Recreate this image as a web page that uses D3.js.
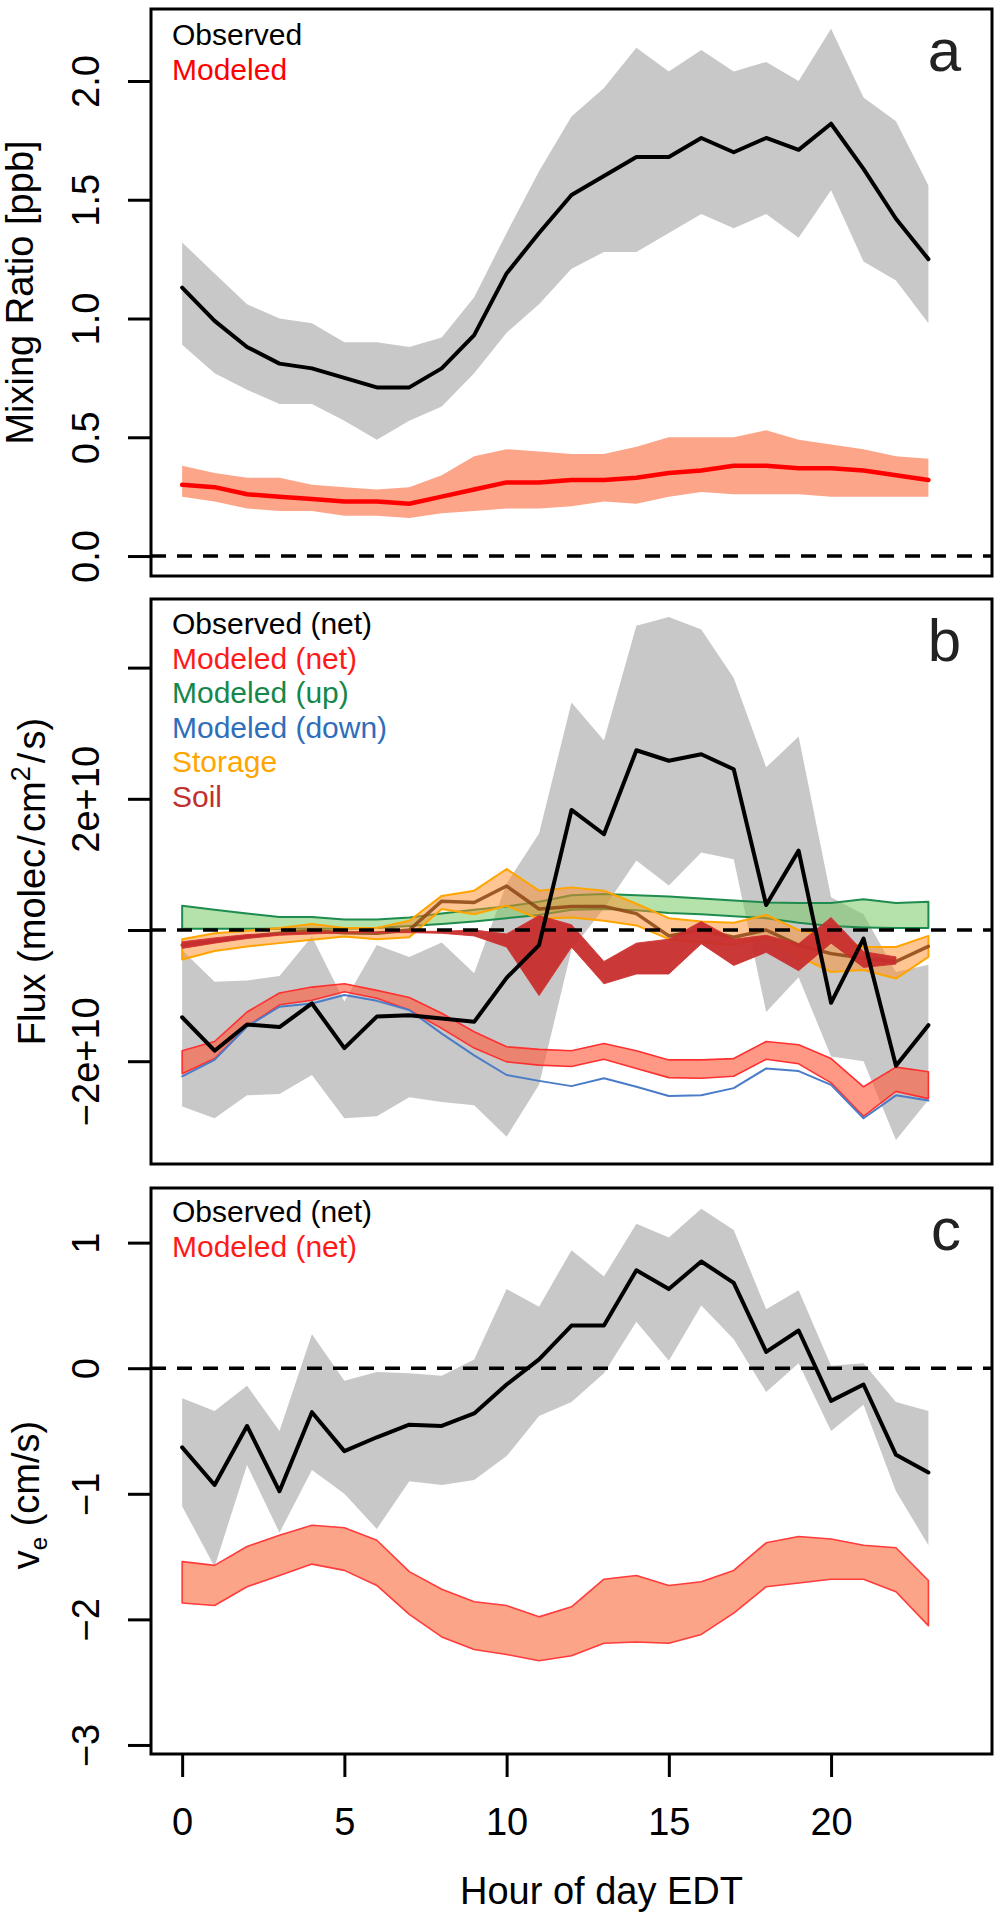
<!DOCTYPE html>
<html>
<head>
<meta charset="utf-8">
<script src="https://cdn.jsdelivr.net/npm/d3@7"></script>
<style>
  html, body { margin: 0; padding: 0; background: #fff; }
  svg { display: block; font-family: "Liberation Sans", Arial, Helvetica, sans-serif; }
</style>
</head>
<body>
<svg id="chart" width="1000" height="1920"></svg>
<script>
// ---------------- data ----------------
const hours = [0,1,2,3,4,5,6,7,8,9,10,11,12,13,14,15,16,17,18,19,20,21,22,23];
const hourTicks = [0,5,10,15,20];

// panel a: mixing ratio [ppb]
const mixObs   = [1.13,0.99,0.88,0.81,0.79,0.75,0.71,0.71,0.79,0.93,1.19,1.36,1.52,1.60,1.68,1.68,1.76,1.70,1.76,1.71,1.82,1.63,1.42,1.25];
const mixObsHi = [1.32,1.19,1.06,1.00,0.98,0.90,0.90,0.88,0.92,1.09,1.36,1.62,1.85,1.97,2.14,2.04,2.13,2.04,2.08,2.00,2.22,1.93,1.83,1.56];
const mixObsLo = [0.89,0.77,0.70,0.64,0.64,0.57,0.49,0.57,0.63,0.77,0.94,1.06,1.21,1.28,1.28,1.36,1.44,1.38,1.44,1.34,1.54,1.24,1.16,0.98];
const mixMod   = [0.30,0.29,0.26,0.25,0.24,0.23,0.23,0.22,0.25,0.28,0.31,0.31,0.32,0.32,0.33,0.35,0.36,0.38,0.38,0.37,0.37,0.36,0.34,0.32];
const mixModHi = [0.38,0.35,0.33,0.33,0.30,0.29,0.28,0.29,0.34,0.42,0.45,0.44,0.43,0.43,0.46,0.50,0.50,0.50,0.53,0.49,0.47,0.45,0.42,0.41];
const mixModLo = [0.25,0.23,0.20,0.19,0.19,0.17,0.17,0.16,0.18,0.19,0.20,0.20,0.21,0.23,0.22,0.25,0.27,0.26,0.26,0.26,0.25,0.25,0.25,0.25];
const mixTicks = [0.0,0.5,1.0,1.5,2.0];
const mixTickLabels = ["0.0","0.5","1.0","1.5","2.0"];

// panel b: flux, in units of 1e10 molec/cm2/s
const fluxObs   = [-1.33,-1.84,-1.44,-1.48,-1.12,-1.80,-1.32,-1.30,-1.35,-1.40,-0.73,-0.23,1.83,1.46,2.74,2.58,2.68,2.45,0.38,1.21,-1.11,-0.13,-2.07,-1.45];
const fluxObsHi = [-0.31,-0.79,-0.77,-0.70,-0.10,-1.09,-0.23,-0.41,-0.19,-0.66,0.71,1.47,3.47,2.89,4.64,4.77,4.58,3.84,2.48,2.95,0.50,0.24,-0.64,-0.53];
const fluxObsLo = [-2.69,-2.87,-2.52,-2.50,-2.21,-2.87,-2.84,-2.55,-2.62,-2.67,-3.15,-2.36,-0.30,0.33,1.06,0.68,1.18,1.08,-1.25,-0.72,-1.93,-2.00,-3.20,-2.59];
const netHi  = [-1.84,-1.70,-1.25,-0.96,-0.87,-0.82,-0.92,-1.03,-1.27,-1.55,-1.78,-1.82,-1.84,-1.73,-1.84,-1.98,-1.98,-1.96,-1.70,-1.75,-1.96,-2.39,-2.09,-2.16];
const netLo  = [-2.19,-1.96,-1.47,-1.14,-1.07,-0.94,-1.04,-1.22,-1.50,-1.80,-2.01,-2.06,-2.08,-1.97,-2.11,-2.25,-2.26,-2.23,-1.97,-2.04,-2.33,-2.84,-2.46,-2.57];
const downFlux = [-2.23,-1.98,-1.47,-1.17,-1.12,-0.99,-1.08,-1.22,-1.58,-1.91,-2.21,-2.30,-2.38,-2.26,-2.39,-2.53,-2.52,-2.41,-2.11,-2.15,-2.36,-2.87,-2.52,-2.60];
const upHi = [0.37,0.31,0.25,0.20,0.20,0.16,0.16,0.19,0.25,0.31,0.36,0.43,0.53,0.55,0.53,0.51,0.48,0.45,0.42,0.41,0.41,0.47,0.41,0.43];
const upLo = [0.02,0.02,0.02,0.02,0.02,0.02,0.03,0.06,0.09,0.13,0.18,0.23,0.31,0.32,0.30,0.26,0.24,0.21,0.18,0.11,0.06,0.04,0.03,0.03];
const storHi  = [-0.14,-0.05,-0.01,0.03,0.09,0.03,0.03,0.14,0.52,0.60,0.93,0.60,0.65,0.60,0.40,0.18,0.13,0.11,0.23,0.00,-0.10,-0.26,-0.26,-0.09];
const storMid = [-0.23,-0.17,-0.10,-0.05,-0.01,-0.04,-0.05,0.00,0.44,0.42,0.67,0.32,0.36,0.36,0.25,-0.09,0.00,-0.11,0.00,-0.23,-0.36,-0.43,-0.48,-0.25];
const storLo  = [-0.45,-0.32,-0.25,-0.20,-0.15,-0.10,-0.14,-0.11,0.32,0.24,0.37,0.17,0.19,0.14,0.07,-0.14,-0.19,-0.23,-0.11,-0.40,-0.64,-0.61,-0.74,-0.41];
const soilHours = [0,1,2,3,4,5,6,7,8,9,10,11,12,13,14,15,16,17,18,19,20,21,22];
const soilHi = [-0.18,-0.12,-0.07,-0.05,-0.03,-0.03,-0.03,-0.02,-0.02,0.00,-0.06,0.22,0.08,-0.48,-0.20,-0.14,0.13,-0.14,-0.08,-0.21,0.19,-0.33,-0.41];
const soilLo = [-0.28,-0.20,-0.13,-0.08,-0.06,-0.04,-0.04,-0.04,-0.05,-0.09,-0.26,-1.00,-0.26,-0.82,-0.67,-0.67,-0.21,-0.54,-0.34,-0.62,-0.20,-0.57,-0.52];
const fluxTicks = [-2,0,2,4];
const fluxTickLabels = ["\u22122e+10","","2e+10",""];

// panel c: exchange velocity [cm/s]
const veObs   = [-0.63,-0.93,-0.46,-0.98,-0.35,-0.66,-0.55,-0.45,-0.46,-0.36,-0.13,0.07,0.34,0.34,0.78,0.63,0.85,0.68,0.13,0.30,-0.26,-0.13,-0.69,-0.83];
const veObsHi = [-0.24,-0.34,-0.14,-0.50,0.27,-0.10,-0.03,-0.04,-0.06,0.07,0.63,0.49,0.94,0.73,1.15,1.04,1.27,1.10,0.47,0.62,0.02,0.04,-0.27,-0.34];
const veObsLo = [-1.10,-1.58,-0.77,-1.31,-0.81,-1.00,-1.28,-0.90,-0.93,-0.89,-0.70,-0.38,-0.27,-0.04,0.37,0.06,0.50,0.23,-0.19,0.04,-0.50,-0.29,-0.98,-1.41];
const veModHi = [-1.54,-1.57,-1.42,-1.33,-1.25,-1.27,-1.37,-1.62,-1.76,-1.86,-1.89,-1.98,-1.90,-1.68,-1.65,-1.73,-1.70,-1.61,-1.39,-1.34,-1.36,-1.41,-1.43,-1.69];
const veModLo = [-1.87,-1.89,-1.74,-1.65,-1.56,-1.61,-1.73,-1.96,-2.14,-2.24,-2.28,-2.33,-2.29,-2.19,-2.18,-2.19,-2.12,-1.95,-1.74,-1.71,-1.68,-1.68,-1.78,-2.05];
const veTicks = [-3,-2,-1,0,1];
const veTickLabels = ["\u22123","\u22122","\u22121","0","1"];

// ---------------- layout ----------------
const svg = d3.select("#chart");
const X0 = 151, X1 = 992;
const x = d3.scaleLinear().domain([-0.96, 24.96]).range([X0, X1]);
const FS = 38;

const panels = {
  a: { top: 9,    bottom: 576,  domain: [-0.084, 2.303] },
  b: { top: 599,  bottom: 1164, domain: [-3.567, 5.046] },
  c: { top: 1188, bottom: 1754, domain: [-3.072, 1.435] }
};
for (const k in panels) {
  const p = panels[k];
  p.y = d3.scaleLinear().domain(p.domain).range([p.bottom, p.top]);
  p.g = svg.append("g");
}

function band(p, xs, lo, hi, fill, stroke, sw) {
  const idx = d3.range(xs.length);
  const ar = d3.area().x(i => x(xs[i])).y0(i => p.y(lo[i])).y1(i => p.y(hi[i]));
  p.g.append("path").attr("d", ar(idx)).attr("fill", fill)
    .attr("stroke", stroke || "none").attr("stroke-width", sw || 0).attr("stroke-linejoin", "round");
}
function line(p, xs, vals, color, w) {
  const idx = d3.range(xs.length);
  const ln = d3.line().x(i => x(xs[i])).y(i => p.y(vals[i]));
  p.g.append("path").attr("d", ln(idx)).attr("fill", "none").attr("stroke", color)
    .attr("stroke-width", w).attr("stroke-linejoin", "round").attr("stroke-linecap", "round");
}
function zeroLine(p) {
  p.g.append("line").attr("x1", X0).attr("x2", X1).attr("y1", p.y(0)).attr("y2", p.y(0))
    .attr("stroke", "#000").attr("stroke-width", 3.5).attr("stroke-dasharray", "15,11");
}
function frame(p) {
  p.g.append("rect").attr("x", X0).attr("y", p.top).attr("width", X1 - X0).attr("height", p.bottom - p.top)
    .attr("fill", "none").attr("stroke", "#000").attr("stroke-width", 3);
}
function yAxis(p, ticks, labels) {
  const ax = d3.axisLeft(p.y).tickValues(ticks).tickSize(23).tickFormat((d, i) => labels[i]);
  const g = p.g.append("g").attr("transform", `translate(${X0},0)`).call(ax);
  g.select(".domain").remove();
  g.selectAll(".tick line").attr("stroke", "#000").attr("stroke-width", 3);
  g.selectAll(".tick text")
    .attr("x", null).attr("dy", null).attr("y", null)
    .attr("transform", d => `translate(${99 - X0},0) rotate(-90)`)
    .attr("text-anchor", "middle")
    .attr("font-size", FS).attr("font-family", "Liberation Sans, Arial, sans-serif").attr("fill", "#000");
}
function legend(p, items, base) {
  items.forEach((it, i) => {
    p.g.append("text").attr("x", 172).attr("y", base + i * 34.6).text(it[0])
      .attr("fill", it[1]).attr("font-size", 30);
  });
}
function letter(p, s) {
  p.g.append("text").attr("x", 961).attr("y", p.top + 62).attr("text-anchor", "end")
    .attr("font-size", 60).attr("fill", "#222").text(s);
}

// ---------------- panel a ----------------
{
  const p = panels.a;
  band(p, hours, mixObsLo, mixObsHi, "#c8c8c8");
  band(p, hours, mixModLo, mixModHi, "#fca588");
  zeroLine(p);
  line(p, hours, mixObs, "#000", 4);
  line(p, hours, mixMod, "#ff0000", 4.5);
  frame(p);
  yAxis(p, mixTicks, mixTickLabels);
  legend(p, [["Observed", "#000"], ["Modeled", "#ff0000"]], 45);
  letter(p, "a");
  svg.append("text").attr("transform", `translate(33,${(p.top + p.bottom) / 2}) rotate(-90)`)
    .attr("text-anchor", "middle").attr("font-size", FS).text("Mixing Ratio [ppb]");
}

// ---------------- panel b ----------------
{
  const p = panels.b;
  band(p, hours, fluxObsLo, fluxObsHi, "#c8c8c8");
  band(p, hours, upLo, upHi, "rgba(120,200,100,0.55)", "#1e8c4e", 2);
  band(p, hours, storLo, storHi, "rgba(255,140,40,0.5)", "#ffa500", 2);
  line(p, hours, storMid, "rgba(139,69,19,0.85)", 3.5);
  band(p, soilHours, soilLo, soilHi, "rgba(200,45,45,0.95)", "rgba(210,50,50,0.9)", 1);
  band(p, hours, netLo, netHi, "rgba(255,90,60,0.62)", "#ff3030", 1.6);
  line(p, hours, downFlux, "#4a7cc8", 2);
  zeroLine(p);
  line(p, hours, fluxObs, "#000", 4);
  frame(p);
  yAxis(p, fluxTicks, fluxTickLabels);
  legend(p, [["Observed (net)", "#000"], ["Modeled (net)", "#ff1a1a"], ["Modeled (up)", "#16874a"],
             ["Modeled (down)", "#2f6eba"], ["Storage", "#ffa500"], ["Soil", "#c0302f"]], 634);
  letter(p, "b");
  const t = svg.append("text").attr("transform", `translate(45,${(p.top + p.bottom) / 2}) rotate(-90)`)
    .attr("text-anchor", "middle").attr("font-size", FS);
  t.append("tspan").text("Flux (molec\u200a/\u200acm");
  t.append("tspan").attr("dy", -15).attr("font-size", 27).text("2");
  t.append("tspan").attr("dy", 15).text("\u200a/\u200as)");
}

// ---------------- panel c ----------------
{
  const p = panels.c;
  band(p, hours, veObsLo, veObsHi, "#c8c8c8");
  band(p, hours, veModLo, veModHi, "#fca488", "#ff3b3b", 1.6);
  zeroLine(p);
  line(p, hours, veObs, "#000", 4);
  frame(p);
  yAxis(p, veTicks, veTickLabels);
  legend(p, [["Observed (net)", "#000"], ["Modeled (net)", "#ff1a1a"]], 1222);
  letter(p, "c");
  const t = svg.append("text").attr("transform", `translate(39,1495) rotate(-90)`)
    .attr("text-anchor", "middle").attr("font-size", FS);
  t.append("tspan").text("v");
  t.append("tspan").attr("dy", 8).attr("font-size", 24).text("e");
  t.append("tspan").attr("dy", -8).text(" (cm/s)");

  const ax = d3.axisBottom(x).tickValues(hourTicks).tickSize(23).tickFormat(d3.format("d"));
  const g = svg.append("g").attr("transform", `translate(0,${p.bottom})`).call(ax);
  g.select(".domain").remove();
  g.selectAll(".tick line").attr("stroke", "#000").attr("stroke-width", 3);
  g.selectAll(".tick text").attr("y", 81).attr("dy", null)
    .attr("font-size", FS).attr("font-family", "Liberation Sans, Arial, sans-serif").attr("fill", "#000");
  svg.append("text").attr("x", 743).attr("y", 1904).attr("text-anchor", "end")
    .attr("font-size", FS).text("Hour of day EDT");
}
</script>
</body>
</html>
